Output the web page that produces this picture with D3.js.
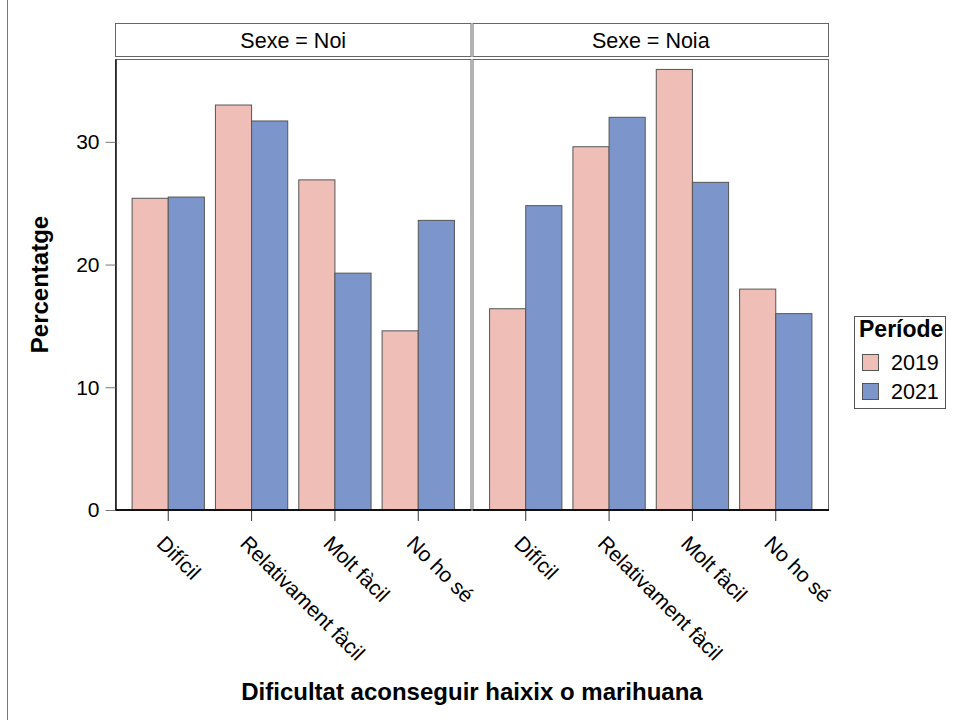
<!DOCTYPE html>
<html>
<head>
<meta charset="utf-8">
<script src="https://cdn.jsdelivr.net/npm/d3@7"></script>
<style>
  html, body { margin: 0; padding: 0; background: #fff; }
  svg { display: block; font-family: "Liberation Sans", Arial, sans-serif; }
</style>
</head>
<body>
<svg id="chart" width="954" height="720"></svg>
<script>
const categories = ["Difícil", "Relativament fàcil", "Molt fàcil", "No ho sé"];
const panels = ["Noi", "Noia"];
const periods = ["2019", "2021"];
const noi2019 = [25.4, 33.0, 26.9, 14.6];
const noi2021 = [25.5, 31.7, 19.3, 23.6];
const noia2019 = [16.4, 29.6, 35.9, 18.0];
const noia2021 = [24.8, 32.0, 26.7, 16.0];
const yTicks = [0, 10, 20, 30];

const seriesByPanel = {
  "Noi": [noi2019, noi2021],
  "Noia": [noia2019, noia2021]
};
const colors = { "2019": "#EFBEB7", "2021": "#7C96CC" };

const svg = d3.select("#chart");

// left page rule
svg.append("line").attr("x1", 7.5).attr("x2", 7.5).attr("y1", 0).attr("y2", 720)
  .attr("stroke", "#777").attr("stroke-width", 1);

const panelX = d3.scaleBand().domain(panels).range([115, 829]).paddingInner(2 / 714);
const y = d3.scaleLinear().domain([0, 36.75]).range([510, 59]);

panels.forEach((p, pi) => {
  const x0 = panelX(p), x1 = x0 + panelX.bandwidth();
  const g = svg.append("g");

  // strip
  g.append("rect").attr("x", x0 + 0.5).attr("y", 23.5).attr("width", x1 - x0 - 1).attr("height", 33)
    .attr("fill", "#fff").attr("stroke", "#666").attr("stroke-width", 1);
  g.append("text").attr("x", (x0 + x1) / 2).attr("y", 47.5).attr("text-anchor", "middle")
    .attr("font-size", 21.5).attr("fill", "#000").text("Sexe = " + p);

  // panel frame
  g.append("rect").attr("x", x0 + 0.5).attr("y", 59.5).attr("width", x1 - x0 - 1).attr("height", 510 - 59.5)
    .attr("fill", "#fff").attr("stroke", "#666").attr("stroke-width", 1);

  const xc = d3.scaleBand().domain(categories).range([x0, x1]).paddingInner(0.1325).paddingOuter(0.205);
  const xs = d3.scaleBand().domain(periods).range([0, xc.bandwidth()]);

  periods.forEach((per, si) => {
    const vals = seriesByPanel[p][si];
    g.selectAll(null).data(categories).enter().append("rect")
      .attr("x", (c) => xc(c) + xs(per))
      .attr("y", (c, i) => y(vals[i]))
      .attr("width", xs.bandwidth())
      .attr("height", (c, i) => y(0) - y(vals[i]))
      .attr("fill", colors[per])
      .attr("stroke", "#555").attr("stroke-width", 1);
  });

  // x axis (bottom)
  const xAxis = d3.axisBottom(xc).tickSize(11).tickSizeOuter(0).tickFormat(() => "");
  const ax = g.append("g").attr("transform", "translate(0,510)").call(xAxis);
  ax.select(".domain").remove();
  ax.selectAll(".tick line").attr("stroke", "#333").attr("stroke-width", 1);
  g.append("line").attr("x1", x0).attr("x2", x1).attr("y1", 510).attr("y2", 510)
    .attr("stroke", "#111").attr("stroke-width", 2);

  // rotated labels
  g.selectAll(null).data(categories).enter().append("text")
    .attr("transform", (c) => `translate(${xc(c) + xc.bandwidth() / 2 - 2},534) rotate(45)`)
    .attr("dy", "0.72em")
    .attr("text-anchor", "start")
    .attr("font-size", 21).attr("fill", "#000")
    .text((c) => c);

  if (pi === 0) {
    const yAxis = d3.axisLeft(y).tickValues(yTicks).tickSize(10).tickPadding(6).tickSizeOuter(0);
    const ay = g.append("g").attr("transform", `translate(${x0 + 0.5},0)`).call(yAxis);
    ay.select(".domain").attr("stroke", "#111").attr("stroke-width", 1.5);
    ay.selectAll(".tick line").attr("stroke", "#777");
    ay.selectAll(".tick text").attr("font-size", 21).attr("fill", "#000")
      .attr("font-family", "Liberation Sans, Arial, sans-serif");
  }
});

// axis titles
svg.append("text").attr("x", 472).attr("y", 700).attr("text-anchor", "middle")
  .attr("font-size", 24).attr("font-weight", "bold").attr("fill", "#000")
  .text("Dificultat aconseguir haixix o marihuana");
svg.append("text").attr("transform", "translate(48,284.5) rotate(-90)").attr("text-anchor", "middle")
  .attr("font-size", 24).attr("font-weight", "bold").attr("fill", "#000")
  .text("Percentatge");

// legend
const lg = svg.append("g");
lg.append("rect").attr("x", 854.5).attr("y", 316.5).attr("width", 91).attr("height", 92)
  .attr("fill", "#fff").attr("stroke", "#555").attr("stroke-width", 1);
lg.append("text").attr("x", 859).attr("y", 337).attr("font-size", 23).attr("font-weight", "bold")
  .attr("fill", "#000").text("Període");
periods.forEach((per, i) => {
  const yy = 354 + i * 29;
  lg.append("rect").attr("x", 862.5).attr("y", yy + 0.5).attr("width", 16).attr("height", 16)
    .attr("fill", colors[per]).attr("stroke", "#555").attr("stroke-width", 1);
  lg.append("text").attr("x", 891).attr("y", yy + 16).attr("font-size", 21.5).attr("fill", "#000").text(per);
});
</script>
</body>
</html>
